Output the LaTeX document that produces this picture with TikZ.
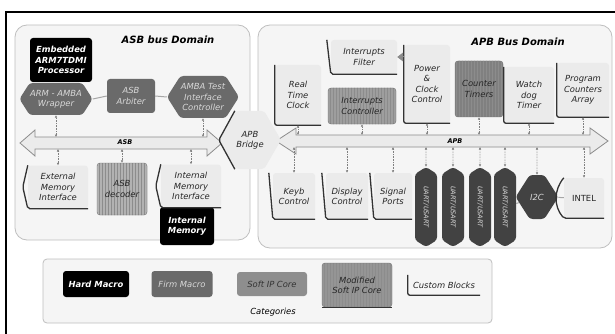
\documentclass[tikz,border=0pt]{standalone}
\usepackage{fontspec}
\setmainfont{DejaVu Sans}
\usetikzlibrary{shapes.symbols,shapes.geometric,patterns,calc,arrows.meta}
\definecolor{firmc}{HTML}{6A6A6A}
\definecolor{firmd}{HTML}{424242}
\definecolor{softc}{HTML}{8E8E8E}
\definecolor{modc}{HTML}{959595}
\definecolor{custc}{HTML}{EBEBEB}
\definecolor{domc}{HTML}{F5F5F5}
\begin{document}
\begin{tikzpicture}[x=1pt,y=-1pt,
  txt/.style={font=\fontsize{8.4}{10.2}\selectfont\itshape},
  title/.style={font=\fontsize{10}{12}\selectfont\bfseries\itshape},
  sz/.style 2 args={minimum width=#1, minimum height=#2},
  box/.style={txt, rounded corners=3pt, align=center, inner sep=0.5pt},
  hard/.style={box, fill=black, text=white, font=\fontsize{8.4}{10.2}\selectfont\bfseries\itshape},
  firm/.style={box, fill=firmc, text=white!85!black},
  darkf/.style={box, fill=firmd, text=white!85!black},
  soft/.style={box, fill=softc, text=black!80},
  mod/.style={box, preaction={fill=#1}, pattern=vertical lines, pattern color=black!45, draw=black!55, text=black!85},
  mod/.default=modc,
  cust/.style={box, fill=custc, text=black!85},
  hex/.style={shape=signal, signal to=east and west, signal pointer angle=115},
  vhex/.style={darkf, hex, rotate=-90, sz={80}{22}, font=\fontsize{6.5}{7}\selectfont\itshape},
  cedge/.style={draw=black!80, line width=1.3pt, rounded corners=2pt},
  dom/.style={fill=domc, draw=black!25, line width=0.8pt, rounded corners=12pt},
  bus/.style={fill=white!92!black, draw=black!45, line width=0.8pt},
  conn/.style={black!50, densely dotted, line width=0.6pt, {Latex[length=2.5pt,width=2.5pt]}-{Latex[length=2.5pt,width=2.5pt]}},
  link/.style={black!35, line width=1pt},
  tri/.style={black!45, line width=1pt, -{Triangle[length=6pt,width=9pt]}}
]
\useasboundingbox (0,0) rectangle (615,334);
\fill[white] (0,0) rectangle (615,334);
\draw[line width=1.5pt] (6,334) -- (6,12) -- (615,12);

% domains
\draw[dom] (15,25) rectangle (250,240);
\draw[dom] (258,25) rectangle (612,248);
\draw[dom, rounded corners=4pt] (43,259) rectangle (492,323);
\node[title] (asbt) at (168,40) {ASB bus Domain};
\node[title] (apbt) at (518,42) {APB Bus Domain};

% buses
\draw[bus] (20,143) -- (35,130) -- (35,137) -- (207,137) -- (207,130) -- (222,143) -- (207,156) -- (207,149) -- (35,149) -- (35,156) -- cycle;
\node[txt, font=\fontsize{6.5}{7}\selectfont\bfseries\itshape] (asbl) at (125,142) {ASB};
\draw[bus] (276,141) -- (296,128) -- (296,135) -- (590,135) -- (590,128) -- (608,141) -- (590,154) -- (590,147) -- (296,147) -- (296,154) -- cycle;
\node[txt, font=\fontsize{6.5}{7}\selectfont\bfseries\itshape] (apbl) at (455,141) {APB};
\coordinate (asbT) at (0,137);
\coordinate (asbB) at (0,149);
\coordinate (apbT) at (0,135);
\coordinate (apbB) at (0,147);

% ASB domain blocks
\node[hard, sz={62}{44}] (cpu) at (61,60) {Embedded\\ARM7TDMI\\Processor};
\node[firm, hex, sz={72}{32}] (wrap) at (56,99) {ARM - AMBA\\Wrapper};
\node[firm, sz={48}{34}] (arb) at (131,96) {ASB\\Arbiter};
\node[firm, hex, sz={72}{42}] (test) at (203,97) {AMBA Test\\Interface\\Controller};
\node[cust, sz={60}{43}] (ext) at (58,187) {External\\Memory\\Interface};
\node[mod=black!30, sz={50}{52}] (dec) at (122,189) {ASB\\decoder};
\node[cust, sz={60}{43}] (imi) at (191,186) {Internal\\Memory\\Interface};
\node[hard, sz={54}{38}] (imem) at (187,226) {Internal\\Memory};

% bridge
\node[cust, hex, signal pointer angle=120, sz={52}{58}] (br) at (250,140) {APB\\Bridge};

% APB domain blocks
\node[cust, sz={46}{60}] (rtc) at (298,95) {Real\\Time\\Clock};
\node[cust, sz={66}{34}] (filt) at (364,57) {Interrupts\\Filter};
\node[mod=black!38, sz={68}{36}] (ictl) at (362,106) {Interrupts\\Controller};
\node[cust, sz={46}{78}] (pwr) at (427,84) {Power\\\&\\Clock\\Control};
\node[mod=black!50, sz={48}{56}] (ctr) at (479,89) {Counter\\Timers};
\node[cust, sz={50}{56}] (wdt) at (529,95) {Watch\\dog\\Timer};
\node[cust, sz={52}{54}] (pca) at (583,90) {Program\\Counters\\Array};

\node[cust, sz={42}{46}] (keyb) at (294,196) {Keyb\\Control};
\node[cust, sz={42}{46}] (disp) at (347,196) {Display\\Control};
\node[cust, sz={38}{46}] (sig) at (393,196) {Signal\\Ports};
\node[vhex] (u1) at (426,207) {UART/USART};
\node[vhex] (u2) at (453,207) {UART/USART};
\node[vhex] (u3) at (480,207) {UART/USART};
\node[vhex] (u4) at (505,207) {UART/USART};
\node[darkf, hex, sz={38}{44}] (i2c) at (537,197) {I2C};
\node[cust, sz={40}{40}, font=\fontsize{8.4}{10}\selectfont\upshape] (intel) at (584,198) {INTEL};

% legend
\node[hard, sz={66}{26}] (lh) at (96,284) {Hard Macro};
\node[firm, sz={61}{26}] (lf) at (182,284) {Firm Macro};
\node[soft, sz={70}{24}] (ls) at (272,284) {Soft IP Core};
\node[mod, sz={70}{44}] (lm) at (357,285) {Modified\\Soft IP Core};
\node[box, text=black!85, sz={72}{20}] (lc) at (444,285) {Custom Blocks};
\node[txt] (cat) at (273,312) {Categories};

% custom block edges
\foreach \n in {rtc,pwr,wdt,pca,lc}
  \draw[cedge] (\n.north west) -- (\n.south west) -- (\n.south east);
\foreach \n in {ext,imi}
  \draw[cedge] (\n.north west) -- ([xshift=-5pt]\n.west) -- (\n.south west) -- (\n.south east);
\foreach \n in {keyb,disp,sig,filt}
  \draw[cedge] ([xshift=-4pt]\n.north west) -- (\n.south west) -- (\n.south east);
\draw[cedge] (intel.north west) to[bend right=40] (intel.south west) -- (intel.south east);
\draw[cedge] ($(br.west |- br.north)+(16,0)$) -- (br.west) -- ($(br.west |- br.south)+(16,0)$);
\draw[draw=black!80, line width=1.3pt] (lm.south west) -- (lm.south east);

% connectors
\draw[conn] (wrap |- asbT) -- (wrap);
\draw[conn] (test |- asbT) -- (test);
\foreach \n in {ext,dec,imi}
  \draw[conn] (\n |- asbB) -- (\n);
\draw[link] (wrap.east) -- (arb.west);
\draw[link] (arb.east) -- (test.west);
\foreach \n in {rtc,ictl,pwr,ctr,wdt,pca}
  \draw[conn] (\n |- apbT) -- (\n);
\foreach \n in {keyb,disp,sig,u1,u2,u3,u4,i2c,intel}
  \draw[conn] (\n |- apbB) -- (\n);
\draw[link] (u4) -- (i2c);
\draw[link] (i2c) -- (intel);
\draw[tri] (pwr.west |- filt.east) -- (filt.east);
\end{tikzpicture}
\end{document}
